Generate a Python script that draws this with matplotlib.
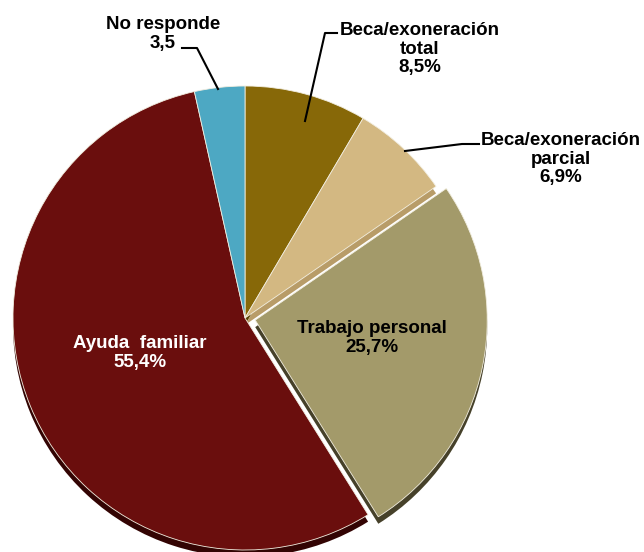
import matplotlib
matplotlib.use("Agg")
import matplotlib.pyplot as plt

# data, clockwise from 12 o'clock
categories = ["Beca/exoneración\ntotal", "Beca/exoneración\nparcial", "Trabajo personal",
              "Ayuda  familiar", "No responde"]
values = [8.5, 6.9, 25.7, 55.4, 3.5]
value_labels = ["8,5%", "6,9%", "25,7%", "55,4%", "3,5"]
colors = ["#876808", "#D3B882", "#A39A6A", "#6A0E0D", "#4DA8C3"]
side_colors = ["#5A4505", "#B89C68", "#46412A", "#330403", "#2E7A90"]
explode = [0, 0, 0.045, 0, 0]

FONT = ["Liberation Sans", "DejaVu Sans"]

# pixel geometry of the reference
CX, CY, R = 245, 318, 232
W, H = 644, 552


def P(x, y):
    return (x - CX) / R, (CY - y) / R


fig = plt.figure(figsize=(W / 100, H / 100), dpi=100)
ax = fig.add_axes([0, 0, 1, 1])

# 3d edge
ax.pie(values, colors=side_colors, startangle=90, counterclock=False, explode=explode,
       radius=1, center=(0, -7 / R), frame=True, wedgeprops=dict(linewidth=0))
ax.pie(values, colors=colors, startangle=90, counterclock=False, explode=explode,
       radius=1, center=(0, 0), frame=True,
       wedgeprops=dict(linewidth=0.6, edgecolor="#F2EEE0"))
ax.set_xlim(-CX / R, (W - CX) / R)
ax.set_ylim(-(H - CY) / R, CY / R)
ax.axis("off")

txt = dict(fontsize=13.5, fontweight="bold", family=FONT, ha="center", va="center",
           linespacing=1.13)

# inside labels
ax.text(*P(372, 338), categories[2] + "\n" + value_labels[2], color="black", **txt)
ax.text(*P(140, 353), categories[3] + "\n" + value_labels[3], color="white", **txt)

# outside labels
ax.text(*P(420, 49), categories[0] + "\n" + value_labels[0], color="black", **txt)
ax.text(*P(561, 159), categories[1] + "\n" + value_labels[1], color="black", **txt)
ax.text(*P(163, 34), categories[4] + "\n" + value_labels[4], color="black", **txt)

# leader lines
lead = dict(color="black", linewidth=1.5)
for pts in ([(337, 33), (325, 33), (305, 121)],
            [(479, 144), (462, 144), (405, 151)],
            [(182, 48), (197, 48), (218, 89)]):
    xs, ys = zip(*[P(px, py) for px, py in pts])
    ax.plot(xs, ys, **lead)

fig.savefig("out.png", dpi=100)
